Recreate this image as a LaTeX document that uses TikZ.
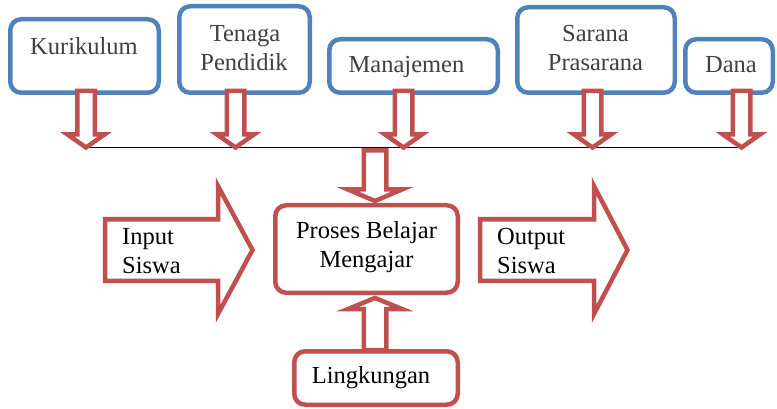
\documentclass[tikz,border=0pt]{standalone}
\usepackage{fontspec}
\setmainfont{Liberation Serif}
\definecolor{boxblue}{HTML}{4F81BD}
\definecolor{arrred}{HTML}{C0504D}
\definecolor{txtgray}{HTML}{404040}
\begin{document}
\begin{tikzpicture}[x=1pt,y=-1pt,
  bbox/.style={draw=boxblue, line width=4.5pt, rounded corners=11pt, fill=white, inner sep=0pt},
  rbox/.style={draw=arrred, line width=4.5pt, rounded corners=11pt, fill=white, inner sep=0pt},
  arrowline/.style={draw=arrred, line width=4.5pt, fill=white, line join=miter},
  toptxt/.style={anchor=base, inner sep=0pt, text=txtgray, font=\fontsize{24.5}{29}\selectfont},
  midtxt/.style={anchor=base, inner sep=0pt, text=black, font=\fontsize{24.5}{29}\selectfont},
  lefttxt/.style={anchor=base west, inner sep=0pt, text=black, font=\fontsize{24.5}{29}\selectfont},
  pics/vblock/.style n args={4}{code={%
    \path[arrowline] (0,0) -- (-#4,-#2) -- (-#3,-#2) -- (-#3,-#1) -- (#3,-#1) -- (#3,-#2) -- (#4,-#2) -- cycle;}},
  pics/hblock/.style n args={4}{code={%
    \path[arrowline] (0,0) -- (-#2,-#4) -- (-#2,-#3) -- (-#1,-#3) -- (-#1,#3) -- (-#2,#3) -- (-#2,#4) -- cycle;}},
]
\useasboundingbox (0,0) rectangle (777,409);

% top boxes
\node[bbox, minimum width=148.5pt, minimum height=73.5pt] (kur) at (84.5,56) {};
\node[bbox, minimum width=130.5pt, minimum height=86.5pt] (ten) at (244.5,49.5) {};
\node[bbox, minimum width=168.5pt, minimum height=53.5pt] (man) at (413.5,66) {};
\node[bbox, minimum width=157.5pt, minimum height=85.5pt] (sar) at (596,50) {};
\node[bbox, minimum width=87.5pt, minimum height=53.5pt] (dana) at (729,66) {};

% central boxes
\node[rbox, minimum width=182.5pt, minimum height=87.5pt] (pbm) at (366.5,249) {};
\node[rbox, minimum width=163.5pt, minimum height=53.5pt] (ling) at (376,378) {};

% horizontal line
\coordinate (lineL) at (86,147.5);
\coordinate (lineR) at (742,147.5);
\draw[line width=1.3pt, black] (lineL) -- (lineR);

% down arrows from top boxes to the line
\coordinate (tkur) at (86,147.5);
\coordinate (tten) at (235.5,147.5);
\coordinate (tman) at (403.5,147.5);
\coordinate (tsar) at (592.5,147.5);
\coordinate (tdana) at (741.5,147.5);
\pic at (tkur) {vblock={56.5}{13}{8.75}{18.5}};
\pic at (tten) {vblock={56.5}{13}{8.75}{18.5}};
\pic at (tman) {vblock={56.5}{13}{8.75}{18.5}};
\pic at (tsar) {vblock={56.5}{13}{8.75}{18.5}};
\pic at (tdana) {vblock={56.5}{13}{8.75}{18.5}};

% arrow from line into process box
\coordinate (tpbm) at (375,201);
\pic at (tpbm) {vblock={50.5}{11.5}{11.25}{27}};
% arrow from Lingkungan up into process box
\coordinate (tling) at (375,298);
\pic[rotate=180] at (tling) {vblock={52}{11}{11.25}{27}};

% input / output block arrows
\coordinate (tin) at (252.5,250);
\coordinate (tout) at (627.5,250);
\pic at (tin) {hblock={147.5}{34.5}{30.75}{64}};
\pic at (tout) {hblock={147.5}{33.5}{30.75}{64}};

% texts
\node[toptxt] (lkur) at (84,54.5) {Kurikulum};
\node[toptxt] (lten1) at (245,42) {Tenaga};
\node[toptxt] (lten2) at (244,70.5) {Pendidik};
\node[toptxt] (lman) at (406.5,72.5) {Manajemen};
\node[toptxt] (lsar1) at (595.5,42) {Sarana};
\node[toptxt] (lsar2) at (595.5,70.5) {Prasarana};
\node[toptxt] (ldana) at (731,72.5) {Dana};

\node[lefttxt] (lin1) at (122,244) {Input};
\node[lefttxt] (lin2) at (122,273) {Siswa};
\node[midtxt] (lpbm1) at (366.5,238) {Proses Belajar};
\node[midtxt] (lpbm2) at (366.5,267) {Mengajar};
\node[lefttxt] (lout1) at (497,244) {Output};
\node[lefttxt] (lout2) at (497,273) {Siswa};
\node[midtxt] (lling) at (371,383) {Lingkungan};
\end{tikzpicture}
\end{document}
